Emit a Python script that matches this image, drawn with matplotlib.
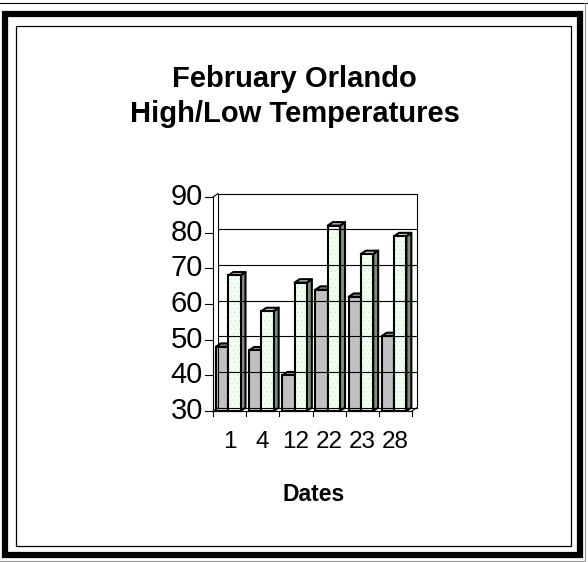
import matplotlib
matplotlib.use("Agg")
import matplotlib.pyplot as plt
from matplotlib.patches import Polygon, Rectangle
from matplotlib.lines import Line2D

dates = ["1", "4", "12", "22", "23", "28"]
low_temps = [48, 47, 40, 64, 62, 51]
high_temps = [68, 58, 66, 82, 74, 79]
y_ticks = [30, 40, 50, 60, 70, 80, 90]
title_lines = ["February Orlando", "High/Low Temperatures"]
x_label = "Dates"

W, H = 588, 562
DPI = 100
fig = plt.figure(figsize=(W / DPI, H / DPI), dpi=DPI)
fig.patch.set_facecolor("white")

ov = fig.add_axes([0, 0, 1, 1])
ov.set_xlim(0, W)
ov.set_ylim(H, 0)
ov.axis("off")

# frame
ov.add_line(Line2D([0, 587], [2.5, 2.5], color="black", lw=0.8))
ov.add_patch(Rectangle((5, 14), 575, 541, fill=False, ec="black", lw=4.5))
ov.add_line(Line2D([585, 585], [2.5, 560], color="#999999", lw=0.8))
ov.add_line(Line2D([0, 585], [560.5, 560.5], color="#999999", lw=0.8))
ov.add_patch(Rectangle((16, 26), 555, 520, fill=False, ec="black", lw=0.9))

SANS = ["Liberation Sans", "DejaVu Sans"]
tfont = dict(family=SANS, fontweight="bold", fontsize=21)
ov.text(294.5, 87, title_lines[0], ha="center", va="baseline", **tfont)
ov.text(294.5, 122, title_lines[1], ha="center", va="baseline", **tfont)
ov.text(314, 501, x_label, ha="center", va="baseline",
        family=SANS, fontweight="bold", fontsize=16.5)

x0p, x1p, ytp, ybp = 213, 412, 197, 411
ax = fig.add_axes([x0p / W, (H - ybp) / H, (x1p - x0p) / W, (ybp - ytp) / H])
n = len(dates)
ymin, ymax = y_ticks[0], y_ticks[-1]
ax.set_xlim(0, n)
ax.set_ylim(ymin, ymax)
ax.axis("off")

DX, DY = 0.15, 0.95
lk = dict(color="black", lw=0.8, clip_on=False)

for v in y_ticks:
    ax.add_line(Line2D([DX, n + DX], [v + DY, v + DY], **lk))
ax.add_line(Line2D([DX, DX], [ymin + DY, ymax + DY], **lk))
ax.add_line(Line2D([n + DX, n + DX], [ymin + DY, ymax + DY], **lk))
ax.add_line(Line2D([0, 0], [ymin, ymax], **lk))
ax.add_line(Line2D([0, n], [ymin, ymin], **lk))
ax.add_line(Line2D([n, n + DX], [ymin, ymin + DY], **lk))
ax.add_line(Line2D([0, DX], [ymin, ymin + DY], **lk))
ax.add_line(Line2D([0, DX], [ymax, ymax + DY], **lk))

px_x = n / (x1p - x0p)
px_y = (ymax - ymin) / (ybp - ytp)
for v in y_ticks:
    ax.add_line(Line2D([-8 * px_x, 0], [v, v], **lk))
    ax.text(-10 * px_x, v, str(v), ha="right", va="center",
            family=SANS, fontsize=21, clip_on=False)
for i in range(n + 1):
    ax.add_line(Line2D([i, i], [ymin, ymin - 5 * px_y], **lk))
for i, d in enumerate(dates):
    ax.text(i + 0.5, ymin - 31 * px_y, d, ha="center", va="center",
            family=SANS, fontsize=17.5, clip_on=False)

BW = 0.37
EL = 1.5


def bar3d(x, v, front, top, side, hatch=None):
    ax.add_patch(Polygon([(x + BW, ymin), (x + BW, v), (x + BW + DX, v + DY),
                          (x + BW + DX, ymin + DY)], closed=True, fc=side,
                         ec="black", lw=EL, clip_on=False, joinstyle="round"))
    ax.add_patch(Polygon([(x, v), (x + BW, v), (x + BW + DX, v + DY), (x + DX, v + DY)],
                         closed=True, fc=top, ec="black", lw=EL, clip_on=False,
                         joinstyle="round"))
    if hatch:
        ax.bar(x, v - ymin, width=BW, bottom=ymin, align="edge", color=front,
               hatch=hatch, edgecolor="#cfe8cf", lw=0, clip_on=False)
        ax.bar(x, v - ymin, width=BW, bottom=ymin, align="edge", fill=False,
               edgecolor="black", lw=EL, clip_on=False)
    else:
        ax.bar(x, v - ymin, width=BW, bottom=ymin, align="edge", color=front,
               edgecolor="black", lw=EL, clip_on=False)


plt.rcParams["hatch.linewidth"] = 0.4
for i in range(n):
    bar3d(i + 0.09, low_temps[i], "#c0c0c0", "#9a9a9a", "#7a7a7a")
    bar3d(i + 0.09 + BW, high_temps[i], "#f2fff2", "#c4d0c4", "#7f8f7f", hatch="....")

fig.savefig("out.png", dpi=DPI, facecolor="white")
